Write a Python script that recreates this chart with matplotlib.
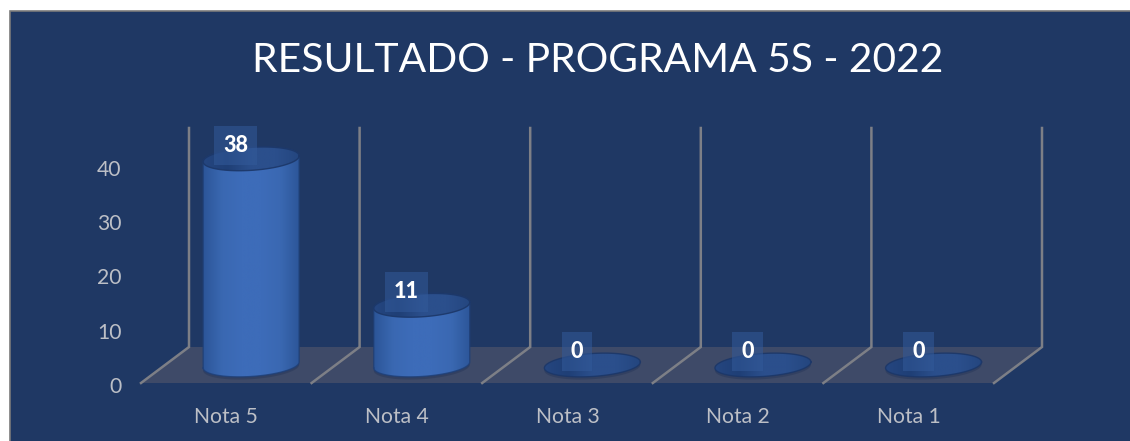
import numpy as np
import matplotlib
matplotlib.use("Agg")
import matplotlib.pyplot as plt
from matplotlib.patches import Rectangle, Polygon
from matplotlib.colors import LinearSegmentedColormap
from matplotlib.transforms import ScaledTranslation

title = "RESULTADO - PROGRAMA 5S - 2022"
categories = ["Nota 5", "Nota 4", "Nota 3", "Nota 2", "Nota 1"]
values = [38, 11, 0, 0, 0]
yticks = [0, 10, 20, 30, 40]

W, H = 1130, 441
BG = "#1f3864"
GRID = "#7d7f86"
TXT = "#bcbfc6"
plt.rcParams["font.family"] = ["Lato", "DejaVu Sans"]

fig = plt.figure(figsize=(W / 100, H / 100), dpi=100, facecolor="white")
fig.add_artist(Rectangle((10 / W, -0.05), 1.1, 1 - 11 / H + 0.05, transform=fig.transFigure,
                         facecolor=BG, edgecolor="#7a7a7a", linewidth=1.2, zorder=-5))

L, R, B, T = 141, 994, 383, 128
ax = fig.add_axes([L / W, 1 - B / H, (R - L) / W, (B - T) / H])
ax.patch.set_alpha(0)
n = len(categories)
ax.set_xlim(0, n)
ppu = (383 - 166) / 40
ax.set_ylim(0, (B - T) / ppu)
pxx = (R - L) / n
for s in ax.spines.values():
    s.set_visible(False)

ax.set_xticks(np.arange(n) + 0.5, categories)
ax.set_yticks(yticks)
ax.tick_params(axis="both", length=0, colors=TXT, labelsize=15.2)
ax.tick_params(axis="x", pad=17)
ax.tick_params(axis="y", pad=14)
shift_y = ScaledTranslation(0, -2 / 100, fig.dpi_scale_trans)
for lab in ax.get_yticklabels():
    lab.set_transform(lab.get_transform() + shift_y)

dx, dy = 48 / pxx, 36 / ppu
top = (B - T) / ppu

# floor and walls
ax.add_patch(Polygon([(0, 0), (n, 0), (n + dx, dy), (dx, dy)], closed=True, facecolor="#3e4a68",
                     edgecolor="none", clip_on=False, zorder=1))
for i in range(n + 1):
    ax.plot([i, i + dx, i + dx], [0, dy, top], color=GRID, lw=1.8, clip_on=False, zorder=2,
            solid_joinstyle="miter")

a = 48 / pxx
b = 11.5 / ppu
tilt = 3.0 / ppu
t = np.linspace(0, 2 * np.pi, 121)

body_cmap = LinearSegmentedColormap.from_list(
    "body", ["#2c5598", "#3a68b2", "#3d6cb9", "#3d6cb9", "#3a68b2", "#2c5598"])
cap_cmap = LinearSegmentedColormap.from_list(
    "cap", ["#254680", "#1f3f76", "#2b4f8c", "#2b4f8c", "#24467f"])
grad = np.linspace(0, 1, 256).reshape(1, -1)


def ell(cx, cy, tt):
    return cx + a * np.cos(tt), cy + b * np.sin(tt) + tilt * np.cos(tt)


for i, v in enumerate(values):
    cx = i + 0.5 + dx / 2 + 0.005
    cy = dy / 2
    ty = cy + v
    # soft shadow on the floor
    sx, sy = ell(cx, cy - 0.5, t)
    ax.fill(sx, sy, color="#1c2f55", alpha=0.35, lw=0, zorder=3, clip_on=False)
    if v > 0:
        tb = np.linspace(np.pi, 2 * np.pi, 60)
        tt = np.linspace(0, np.pi, 60)
        bx, by = ell(cx, cy, tb)
        ux, uy = ell(cx, ty, tt)
        pts = np.r_[np.c_[bx, by], np.c_[ux, uy], [[bx[0], by[0]]]]
        clip = Polygon(pts, closed=True, transform=ax.transData, facecolor="none", edgecolor="none")
        ax.add_patch(clip)
        im = ax.imshow(grad, cmap=body_cmap, extent=(cx - a, cx + a, cy - b - tilt, ty + b + tilt),
                       aspect="auto", zorder=4)
        im.set_clip_path(clip)
        ax.plot(pts[:, 0], pts[:, 1], color="#1f3f76", lw=1.0, alpha=0.8, zorder=5, clip_on=False)
    ex, ey = ell(cx, ty, t)
    cap = Polygon(np.c_[ex, ey], closed=True, transform=ax.transData, facecolor="none",
                  edgecolor="none")
    ax.add_patch(cap)
    im2 = ax.imshow(grad, cmap=cap_cmap, extent=(cx - a, cx + a, ty - b - tilt, ty + b + tilt),
                    aspect="auto", zorder=6)
    im2.set_clip_path(cap)
    ax.plot(ex, ey, color="#1c3768", lw=1.0, alpha=0.9, zorder=7, clip_on=False)
    ax.annotate(str(v), (cx, ty), xytext=(-11, 9.6), textcoords="offset points", ha="center",
                va="center", color="white", fontsize=15.5, fontweight="black", zorder=9,
                annotation_clip=False,
                bbox=dict(boxstyle="square,pad=0.42", facecolor="#335a9a", edgecolor="none", alpha=0.55))

ax.set_xlim(0, n)
ax.set_ylim(0, top)

fig.text(598 / W, 1 - 60 / H, title, ha="center", va="center", color="white", fontsize=29.3)
fig.savefig("out.png", dpi=100, facecolor="white")
